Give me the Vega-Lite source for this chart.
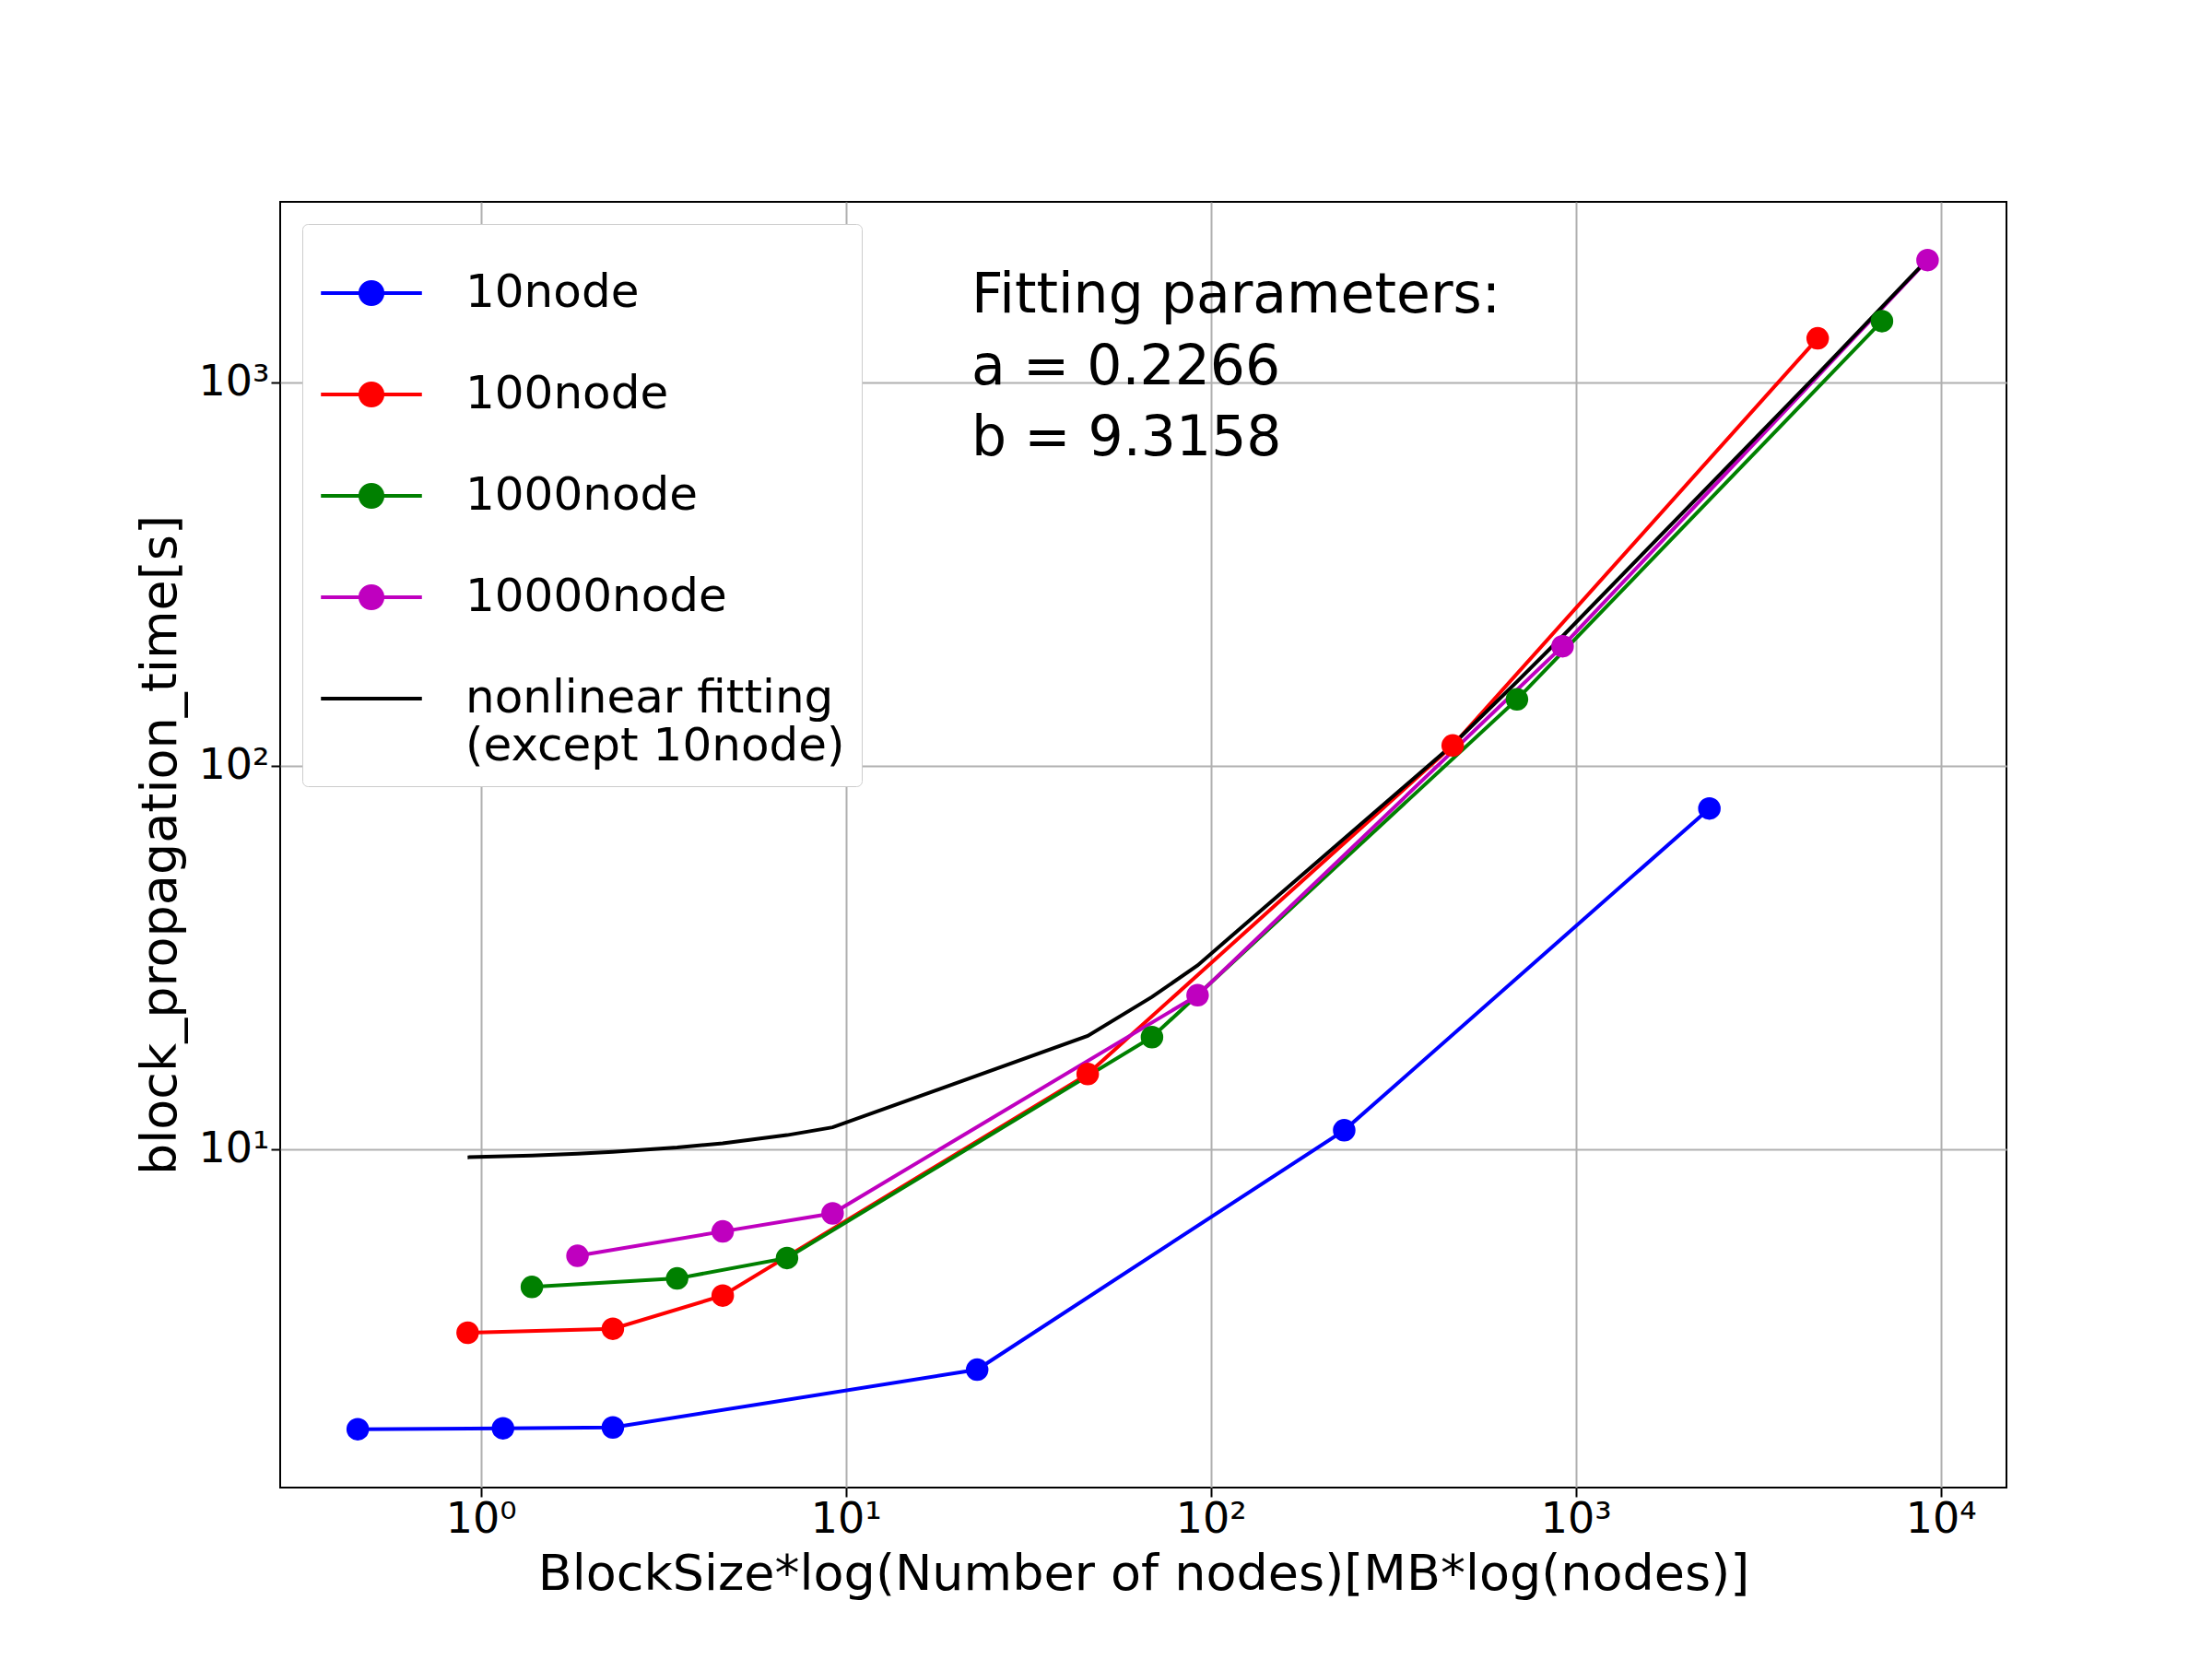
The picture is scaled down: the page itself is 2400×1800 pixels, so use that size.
{
  "$schema": "https://vega.github.io/schema/vega-lite/v6.json",
  "width": 1873,
  "height": 1395,
  "autosize": "none",
  "padding": {"left": 304, "top": 219, "right": 223, "bottom": 186},
  "background": "white",
  "config": {
    "view": {"stroke": "black", "strokeWidth": 2},
    "font": "DejaVu Sans",
    "axis": {"labelFont": "DejaVu Sans", "titleFont": "DejaVu Sans", "labelFontSize": 46, "titleFontSize": 54, "titleFontWeight": "normal", "labelColor": "black", "titleColor": "black", "gridColor": "#b0b0b0", "gridWidth": 2, "tickColor": "black", "tickSize": 10, "tickWidth": 2, "domain": false}
  },
  "datasets": {
    "series": [
      {"x": 0.46, "y": 1.86, "s": "10node"},
      {"x": 1.15, "y": 1.87, "s": "10node"},
      {"x": 2.3, "y": 1.88, "s": "10node"},
      {"x": 22.9, "y": 2.66, "s": "10node"},
      {"x": 232, "y": 11.2, "s": "10node"},
      {"x": 2323, "y": 77.4, "s": "10node"},
      {"x": 0.92, "y": 3.32, "s": "100node"},
      {"x": 2.3, "y": 3.4, "s": "100node"},
      {"x": 4.6, "y": 4.15, "s": "100node"},
      {"x": 46, "y": 15.7, "s": "100node"},
      {"x": 460, "y": 113, "s": "100node"},
      {"x": 4600, "y": 1303, "s": "100node"},
      {"x": 1.38, "y": 4.37, "s": "1000node"},
      {"x": 3.45, "y": 4.6, "s": "1000node"},
      {"x": 6.9, "y": 5.2, "s": "1000node"},
      {"x": 69, "y": 19.6, "s": "1000node"},
      {"x": 690, "y": 149, "s": "1000node"},
      {"x": 6900, "y": 1445, "s": "1000node"},
      {"x": 1.84, "y": 5.27, "s": "10000node"},
      {"x": 4.6, "y": 6.1, "s": "10000node"},
      {"x": 9.2, "y": 6.8, "s": "10000node"},
      {"x": 92, "y": 25.2, "s": "10000node"},
      {"x": 920, "y": 205, "s": "10000node"},
      {"x": 9200, "y": 2085, "s": "10000node"},
      {"x": 0.92, "y": 9.524, "s": "fit"},
      {"x": 1.38, "y": 9.629, "s": "fit"},
      {"x": 1.84, "y": 9.733, "s": "fit"},
      {"x": 2.3, "y": 9.837, "s": "fit"},
      {"x": 3.45, "y": 10.098, "s": "fit"},
      {"x": 4.6, "y": 10.358, "s": "fit"},
      {"x": 6.9, "y": 10.879, "s": "fit"},
      {"x": 9.2, "y": 11.401, "s": "fit"},
      {"x": 46, "y": 19.74, "s": "fit"},
      {"x": 69, "y": 24.95, "s": "fit"},
      {"x": 92, "y": 30.16, "s": "fit"},
      {"x": 460, "y": 113.55, "s": "fit"},
      {"x": 690, "y": 165.67, "s": "fit"},
      {"x": 920, "y": 217.79, "s": "fit"},
      {"x": 4600, "y": 1051.7, "s": "fit"},
      {"x": 6900, "y": 1572.9, "s": "fit"},
      {"x": 9200, "y": 2094.0, "s": "fit"}
    ],
    "note": [
      {"x": 22.1, "y": 1520, "t": "Fitting parameters:"},
      {"x": 22.1, "y": 991, "t": "a = 0.2266"},
      {"x": 22.1, "y": 646, "t": "b = 9.3158"}
    ]
  },
  "encoding": {
    "x": {"field": "x", "type": "quantitative", "title": "BlockSize*log(Number of nodes)[MB*log(nodes)]",
      "scale": {"type": "log", "domain": [0.282, 15136], "nice": false},
      "axis": {"values": [1, 10, 100, 1000, 10000], "grid": true, "titlePadding": 10,
        "labelExpr": "datum.value==1?'10⁰':datum.value==10?'10¹':datum.value==100?'10²':datum.value==1000?'10³':'10⁴'"}},
    "y": {"field": "y", "type": "quantitative", "title": "block_propagation_time[s]",
      "scale": {"type": "log", "domain": [1.31, 2958], "nice": false},
      "axis": {"values": [10, 100, 1000], "grid": true, "titlePadding": 14,
        "labelExpr": "datum.value==10?'10¹':datum.value==100?'10²':'10³'"}}
  },
  "layer": [
    {
      "data": {"name": "series"},
      "mark": {"type": "line", "strokeWidth": 4},
      "encoding": {
        "color": {"field": "s", "type": "nominal",
          "scale": {"domain": ["10node", "100node", "1000node", "10000node", "fit"], "range": ["#0000ff", "#ff0000", "#008000", "#bf00bf", "#000000"]},
          "legend": {"orient": "top-left", "title": null, "offset": 24, "fillColor": "white", "strokeColor": "#cccccc", "padding": 18, "cornerRadius": 6,
            "labelFontSize": 50, "labelFont": "DejaVu Sans", "labelColor": "black", "rowPadding": 28, "symbolSize": 12000, "symbolStrokeWidth": 4, "labelOffset": 45, "labelLimit": 900,
            "labelExpr": "datum.label=='fit'?['nonlinear fitting','(except 10node)']:datum.label"}},
        "shape": {"field": "s", "type": "nominal",
          "scale": {"domain": ["10node", "100node", "1000node", "10000node", "fit"], "range": ["M-1,0H1M0.22,0A0.22,0.22 0 1,1 -0.22,0A0.22,0.22 0 1,1 0.22,0Z", "M-1,0H1M0.22,0A0.22,0.22 0 1,1 -0.22,0A0.22,0.22 0 1,1 0.22,0Z", "M-1,0H1M0.22,0A0.22,0.22 0 1,1 -0.22,0A0.22,0.22 0 1,1 0.22,0Z", "M-1,0H1M0.22,0A0.22,0.22 0 1,1 -0.22,0A0.22,0.22 0 1,1 0.22,0Z", "M-1,0H1"]},
          "legend": null}
      }
    },
    {
      "data": {"name": "series"},
      "transform": [{"filter": "datum.s != 'fit'"}],
      "mark": {"type": "point", "filled": true, "shape": "circle", "size": 600, "opacity": 1},
      "encoding": {"color": {"field": "s", "type": "nominal", "legend": null}}
    },
    {
      "data": {"name": "note"},
      "mark": {"type": "text", "align": "left", "baseline": "alphabetic", "fontSize": 60, "font": "DejaVu Sans", "color": "black"},
      "encoding": {"text": {"field": "t", "type": "nominal"}}
    }
  ]
}
